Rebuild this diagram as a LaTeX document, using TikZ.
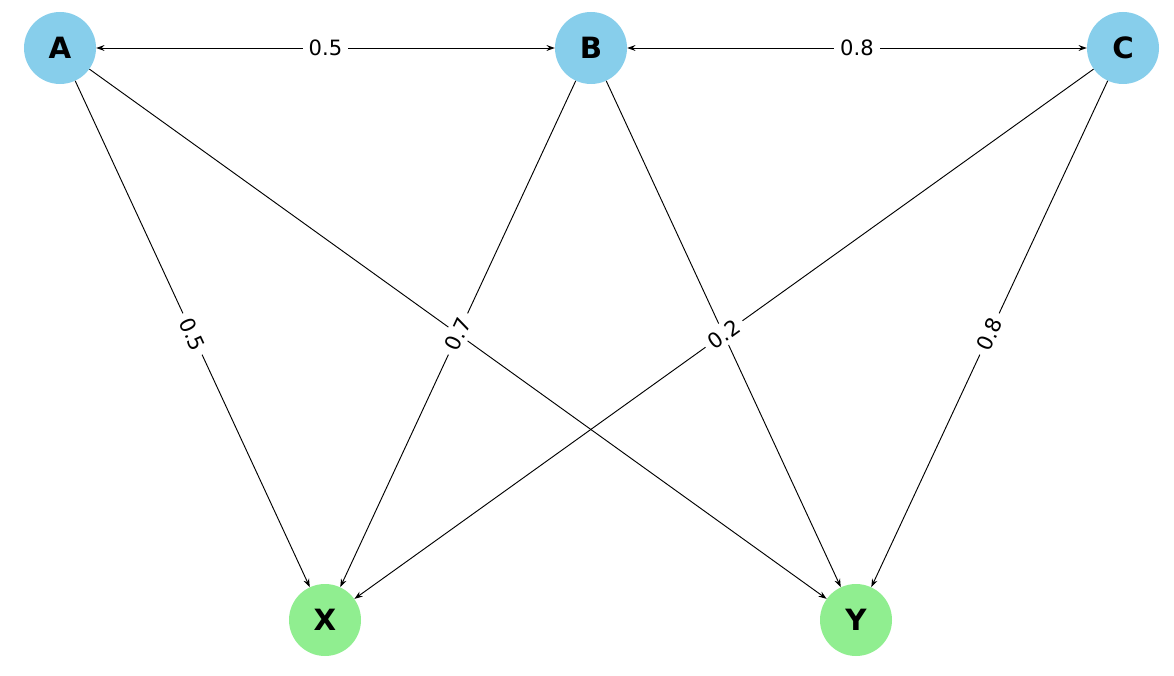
\documentclass[tikz,border=0pt]{standalone}
\usepackage{fontspec}
\setmainfont{DejaVu Sans}
\usetikzlibrary{arrows.meta}
\begin{document}
\begin{tikzpicture}[x=0.03cm,y=-0.03cm,
  vtx/.style={circle,minimum size=2.16cm,inner sep=0pt,font=\fontsize{25}{25}\selectfont\bfseries},
  top/.style={vtx,fill={rgb,255:red,135;green,206;blue,235}},
  bot/.style={vtx,fill={rgb,255:red,144;green,238;blue,144}},
  edge/.style={line width=0.8pt,-{Stealth[length=7pt,width=5pt]}},
  bi/.style={line width=0.8pt,{Stealth[length=7pt,width=5pt]}-{Stealth[length=7pt,width=5pt]}},
  lab/.style={fill=white,inner xsep=5pt,inner ysep=3pt,font=\fontsize{18}{18}\selectfont,sloped}]
\useasboundingbox (0,0) rectangle (1174,676);
\node[top] (A) at (60,48) {A};
\node[top] (B) at (591,48) {B};
\node[top] (C) at (1123,48) {C};
\node[bot] (X) at (325,620) {X};
\node[bot] (Y) at (856,620) {Y};
\draw[bi] (A) -- (B);
\draw[bi] (B) -- (C);
\draw[edge] (A) -- (X);
\draw[edge] (A) -- (Y);
\draw[edge] (B) -- (X);
\draw[edge] (B) -- (Y);
\draw[edge] (C) -- (X);
\draw[edge] (C) -- (Y);
\path (A) -- node[lab,sloped=false] {0.5} (B);
\path (B) -- node[lab,sloped=false] {0.8} (C);
\path (A) -- node[lab] {0.5} (X);
\path (X) -- node[lab] {0.7} (B);
\path (X) -- node[lab] {0.2} (C);
\path (Y) -- node[lab] {0.8} (C);
\end{tikzpicture}
\end{document}
